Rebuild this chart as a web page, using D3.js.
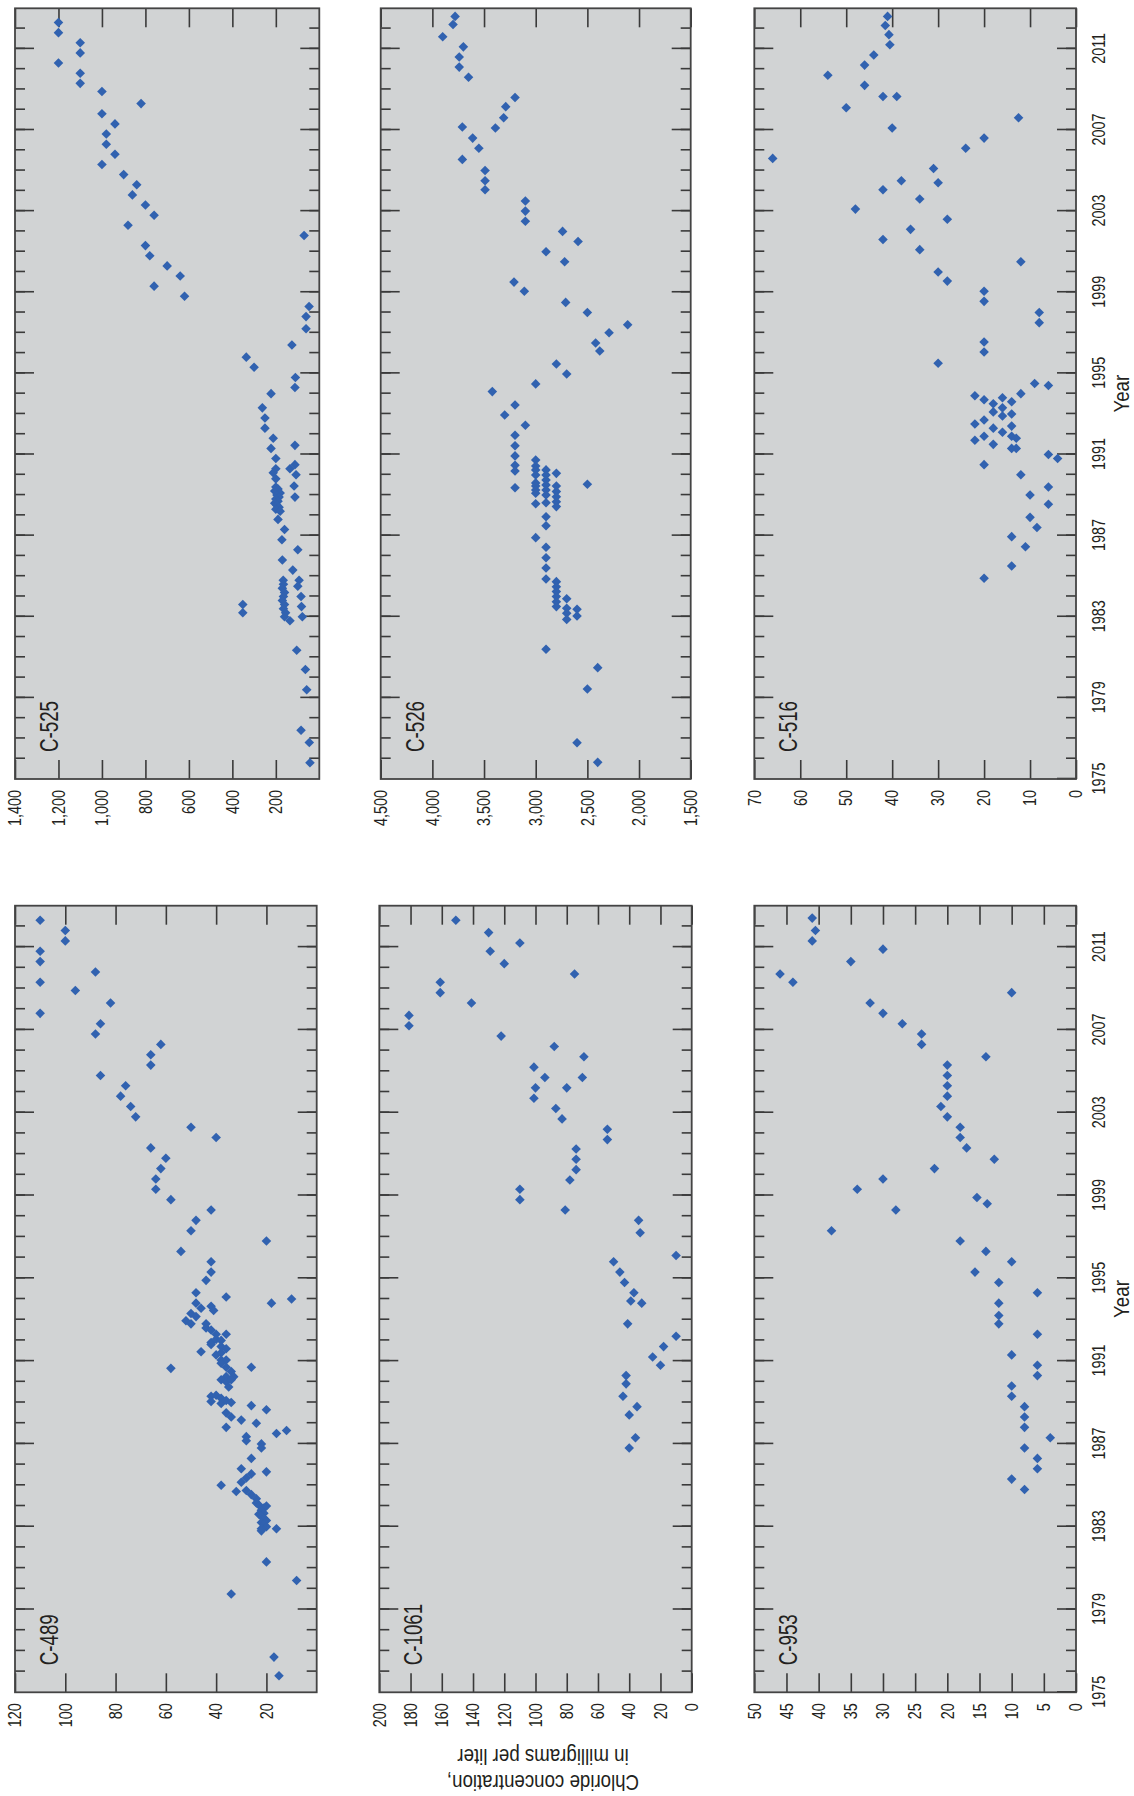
<!DOCTYPE html>
<html>
<head>
<meta charset="utf-8">
<script src="https://cdn.jsdelivr.net/npm/d3@7"></script>
<style>
  html, body { margin: 0; padding: 0; background: #fff; }
  svg { display: block; }
  text { font-family: "Liberation Sans", Arial, sans-serif; fill: #231f20; }
</style>
</head>
<body>
<div id="chart"></div>
<script>
// Years on the time axis
const yearDomain = [1975, 2013];
const majorYears = d3.range(1979, 2013, 4);
const minorYears = d3.range(1976, 2013);
const yearLabels = d3.range(1975, 2013, 4);

// Chloride, mg/L — [year, value]
const c489 = [
  [2012.3,110],[2011.8,100],[2011.3,100],[2010.8,110],[2010.3,110],[2009.8,88],[2009.3,110],[2008.9,96],
  [2008.3,82],[2007.8,110],[2007.3,86],[2006.8,88],[2006.3,62],[2005.8,66],[2005.3,66],[2004.8,86],
  [2004.3,76],[2003.8,78],[2003.3,74],[2002.8,72],[2002.3,50],[2001.8,40],[2001.3,66],[2000.8,60],
  [2000.3,62],[1999.8,64],[1999.3,64],[1998.8,58],[1998.3,42],[1997.8,48],[1997.3,50],[1996.8,20],
  [1996.3,54],[1995.8,42],[1995.3,42],[1994.9,44],[1994.3,48],[1994.1,36],[1993.8,18],[1994.0,10],
  [1993.8,48],[1993.55,46],[1993.65,42],[1993.45,41],[1993.3,50],[1992.95,52],[1992.8,50],[1993.15,48],
  [1992.8,44],[1992.6,44],[1992.5,42],[1992.3,40],[1992.3,36],[1991.9,42],[1992.05,40],[1992.0,38],
  [1991.45,46],[1991.8,42],[1991.7,38],[1991.6,36],[1991.3,40],[1991.4,38],[1991.05,38],[1991.05,36],
  [1990.65,58],[1990.7,26],[1990.9,38],[1990.7,36],[1990.5,34],[1990.25,36],[1990.25,33],[1990.1,38],
  [1990.0,36],[1990.1,34],[1989.75,35],[1989.3,42],[1989.05,42],[1989.35,40],[1989.2,38],[1988.95,38],
  [1989.1,36],[1989.0,34],[1988.85,26],[1988.65,20],[1988.5,36],[1988.3,34],[1988.15,30],[1988.0,24],
  [1987.8,36],[1987.5,16],[1987.65,12],[1987.35,28],[1987.15,28],[1987.0,22],[1986.8,22],[1986.3,26],
  [1985.8,30],[1985.65,20],[1985.55,26],[1985.35,28],[1985.0,38],[1985.15,30],[1984.7,32],[1984.75,28],
  [1984.55,26],[1984.35,24],[1984.15,24],[1984.05,23],[1983.8,22],[1983.65,21],[1983.5,22],[1983.4,21],
  [1983.3,20],[1983.2,22],[1983.1,21],[1983.0,20],[1982.9,22],[1983.6,23],[1983.9,21],[1984.0,20],
  [1982.8,22],[1982.9,16],[1981.3,20],[1980.4,8],[1979.75,34],[1976.7,17],[1975.8,15]
];

const c1061 = [
  [2012.3,151],[2011.7,130],[2011.2,110],[2010.8,129],[2010.2,120],[2009.7,75],[2009.3,161],[2008.8,161],
  [2008.3,141],[2007.7,181],[2007.2,181],[2006.7,122],[2006.2,88],[2005.7,69],[2005.2,101],[2004.7,94],
  [2004.7,70],[2004.2,100],[2004.2,80],[2003.7,101],[2003.2,87],[2002.7,83],[2002.2,54],[2001.7,54],
  [2001.25,74],[2000.75,74],[2000.25,74],[1999.75,78],[1999.3,110],[1998.8,110],[1998.3,81],[1997.8,34],
  [1997.2,33],[1996.1,10],[1995.8,50],[1995.3,46],[1994.8,43],[1994.3,37],[1993.9,39],[1993.8,32],
  [1992.8,41],[1992.2,10],[1991.7,18],[1991.2,25],[1990.8,20],[1990.3,42],[1989.9,42],[1989.3,44],
  [1988.8,35],[1988.4,40],[1987.3,36],[1986.8,40]
];

const c953 = [
  [2012.4,41],[2011.8,40.5],[2011.3,41],[2010.9,30],[2010.3,35],[2009.7,46],[2009.3,44],[2008.8,10],
  [2008.3,32],[2007.8,30],[2007.3,27],[2006.8,24],[2006.3,24],[2005.7,14],[2005.3,20],[2004.8,20],
  [2004.3,20],[2003.8,20],[2003.3,21],[2002.8,20],[2002.3,18],[2001.8,18],[2001.3,17],[2000.75,12.7],
  [2000.3,22],[1999.8,30],[1999.3,34],[1998.9,15.4],[1998.6,13.8],[1998.3,28],[1997.3,38],[1996.8,18],
  [1996.3,14],[1995.8,10],[1995.3,15.7],[1994.8,12],[1994.3,6],[1993.8,12],[1993.2,12],[1992.8,12],
  [1992.3,6],[1991.3,10],[1990.8,6],[1990.3,6],[1989.8,10],[1989.3,10],[1988.8,8],[1988.3,8],
  [1987.8,8],[1987.3,4],[1986.8,8],[1986.3,6],[1985.8,6],[1985.3,10],[1984.8,8]
];

const c525 = [
  [2012.3,1200],[2011.8,1200],[2011.3,1100],[2010.8,1100],[2010.3,1200],[2009.8,1100],[2009.3,1100],[2008.9,1000],
  [2008.3,820],[2007.8,1000],[2007.3,940],[2006.8,980],[2006.3,980],[2005.8,940],[2005.3,1000],[2004.8,900],
  [2004.3,840],[2003.8,860],[2003.3,800],[2002.8,760],[2002.3,880],[2001.8,70],[2001.3,800],[2000.8,780],
  [2000.3,700],[1999.8,640],[1999.3,760],[1998.8,620],[1998.3,47],[1997.8,61],[1997.2,61],[1996.4,126],
  [1995.8,336],[1995.3,300],[1994.8,110],[1994.3,112],[1994.0,222],[1993.3,262],[1992.8,250],[1992.3,250],
  [1991.8,212],[1991.3,222],[1991.45,112],[1990.8,200],[1990.3,200],[1990.1,212],[1989.8,200],[1990.3,135],
  [1990.5,112],[1990.0,107],[1989.45,116],[1988.9,112],[1989.4,200],[1989.3,190],[1989.2,205],[1989.1,180],
  [1989.0,195],[1988.9,185],[1988.8,200],[1988.7,190],[1988.6,205],[1988.5,195],[1988.4,185],[1988.3,200],
  [1988.2,180],[1987.8,190],[1987.3,160],[1986.8,172],[1986.3,99],[1985.8,170],[1985.3,122],[1984.8,166],
  [1984.8,93],[1984.5,99],[1984.0,84],[1983.5,82],[1983.0,78],[1983.6,352],[1983.2,352],[1984.6,165],
  [1984.4,170],[1984.2,160],[1984.0,165],[1983.8,170],[1983.6,160],[1983.4,165],[1983.2,155],[1983.0,160],
  [1982.8,135],[1981.35,104],[1980.4,64],[1979.4,58],[1977.4,84],[1976.8,46],[1975.8,43]
];

const c526 = [
  [2012.6,3780],[2012.2,3800],[2011.6,3900],[2011.1,3700],[2010.6,3740],[2010.1,3740],[2009.6,3650],[2008.6,3200],
  [2008.15,3290],[2007.6,3310],[2007.1,3390],[2007.15,3710],[2006.6,3610],[2006.1,3550],[2005.55,3710],[2005.0,3490],
  [2004.5,3490],[2004.05,3490],[2003.5,3100],[2003.0,3100],[2002.5,3100],[2002.0,2740],[2001.5,2590],[2001.0,2900],
  [2000.5,2720],[1999.5,3210],[1999.05,3110],[1998.5,2710],[1998.0,2500],[1997.4,2110],[1997.0,2290],[1996.5,2420],
  [1996.1,2380],[1995.46,2800],[1994.97,2700],[1994.48,3000],[1994.1,3420],[1993.44,3200],[1992.95,3300],[1992.44,3100],
  [1991.95,3200],[1991.43,3200],[1990.93,3200],[1990.47,3200],[1990.19,3200],[1989.36,3200],
  [1990.73,3000],[1990.43,3000],[1990.24,3000],[1989.99,3000],[1989.6,3000],[1989.45,3000],[1989.25,3000],[1989.09,3000],[1988.57,3000],
  [1990.24,2900],[1989.99,2900],[1989.74,2900],[1989.5,2900],[1989.25,2900],[1989.0,2900],[1988.62,2900],[1987.93,2900],[1987.49,2900],
  [1990.07,2800],[1989.45,2800],[1989.17,2800],[1988.92,2800],[1988.67,2800],[1988.43,2800],[1989.53,2500],
  [1986.9,3000],[1986.43,2900],[1985.91,2900],[1985.4,2900],[1984.86,2900],
  [1984.73,2800],[1984.48,2800],[1984.24,2800],[1984.0,2800],[1983.74,2800],[1983.5,2800],
  [1983.89,2700],[1983.42,2700],[1983.17,2700],[1982.87,2700],[1983.37,2600],[1983.04,2600],
  [1981.4,2900],[1980.49,2400],[1979.44,2500],[1976.79,2600],[1975.82,2400]
];

const c516 = [
  [2012.6,41],[2012.15,41.5],[2011.7,40.7],[2011.2,40.5],[2010.7,44],[2010.2,46],[2009.7,54],[2009.2,46],
  [2008.65,39],[2008.65,42],[2008.1,50],[2007.6,12.5],[2007.1,40],[2006.6,20],[2006.1,24],[2005.6,66],
  [2005.1,31],[2004.5,38],[2004.05,42],[2004.4,30],[2003.6,34],[2003.1,48],[2002.6,28],[2002.1,36],
  [2001.6,42],[2001.1,34],[2000.5,12],[2000.0,30],[1999.55,28],[1999.05,20],[1998.55,20],[1998.0,8],
  [1997.5,8],[1996.55,20],[1996.05,20],[1995.5,30],[1994.5,9],[1994.4,6],[1994.0,12],[1993.9,22],
  [1993.7,20],[1993.5,18],[1993.3,16],[1993.1,18],[1992.9,16],[1992.7,20],[1992.5,22],[1992.3,18],
  [1992.1,16],[1991.9,20],[1991.7,22],[1991.5,18],[1991.3,14],[1993.6,14],[1993.0,14],[1992.4,14],
  [1991.9,14],[1991.8,13],[1991.3,13],[1993.8,16],[1990.5,20],[1991.0,6],[1990.8,4],[1990.0,12],
  [1989.4,6],[1989.0,10],[1988.55,6],[1987.9,10],[1987.4,8.5],[1986.95,14],[1986.45,11],[1985.5,14],
  [1984.9,20]
];

// Panels, drawn in the landscape frame and turned a quarter turn at the end
const figW = 1796, figH = 1134;
const panels = [
  { name: "C-489",  data: c489,  domain: [0, 120],     ticks: d3.range(20, 121, 20),      fmt: d3.format("d"), x0: 103.7, x1: 890.3,  y0: 15,    y1: 316.7, years: false },
  { name: "C-1061", data: c1061, domain: [0, 200],     ticks: d3.range(0, 201, 20),       fmt: d3.format("d"), x0: 103.7, x1: 890.3,  y0: 379.3, y1: 691.7, years: false },
  { name: "C-953",  data: c953,  domain: [0, 50],      ticks: d3.range(0, 51, 5),         fmt: d3.format("d"), x0: 103.7, x1: 890.3,  y0: 754.3, y1: 1076,  years: true },
  { name: "C-525",  data: c525,  domain: [0, 1400],    ticks: d3.range(200, 1401, 200),   fmt: d3.format(","), x0: 1017,  x1: 1787.7, y0: 15,    y1: 319.3, years: false },
  { name: "C-526",  data: c526,  domain: [1500, 4500], ticks: d3.range(1500, 4501, 500),  fmt: d3.format(","), x0: 1017,  x1: 1787.7, y0: 380.7, y1: 690.7, years: false },
  { name: "C-516",  data: c516,  domain: [0, 70],      ticks: d3.range(0, 71, 10),        fmt: d3.format("d"), x0: 1017,  x1: 1787.7, y0: 754.3, y1: 1076,  years: true }
];

const svg = d3.select("#chart").append("svg")
  .attr("width", figH)
  .attr("height", figW);

// landscape figure rotated counter-clockwise onto the portrait page
const fig = svg.append("g").attr("transform", `translate(0,${figW}) rotate(-90)`);

const tickColor = "#3a3a3a";
const narrow = 0.8; // squeeze text to look like a condensed face
const marker = d3.symbol().type(d3.symbolSquare).size(46);

panels.forEach(p => {
  const pw = p.x1 - p.x0, ph = p.y1 - p.y0;
  const x = d3.scaleLinear().domain(yearDomain).range([0, pw]);
  const y = d3.scaleLinear().domain(p.domain).range([ph, 0]);

  const g = fig.append("g").attr("transform", `translate(${p.x0},${p.y0})`);

  g.append("rect")
    .attr("width", pw).attr("height", ph)
    .attr("fill", "#d1d3d4");

  const style = sel => {
    sel.select(".domain").remove();
    sel.selectAll(".tick line").attr("stroke", tickColor).attr("stroke-width", 1.6);
    sel.selectAll(".tick text")
      .attr("font-size", 18)
      .attr("font-family", null)
      .attr("fill", "#231f20")
      .attr("transform", `scale(${narrow},1)`);
  };

  // year ticks, inside, both edges
  g.append("g").attr("transform", `translate(0,${ph})`)
    .call(d3.axisBottom(x).tickValues(minorYears).tickSize(-10).tickFormat(""))
    .call(style);
  g.append("g").attr("transform", `translate(0,${ph})`)
    .call(d3.axisBottom(x).tickValues(p.years ? yearLabels : majorYears).tickSize(-19).tickPadding(16)
      .tickFormat(p.years ? d3.format("d") : ""))
    .call(style);
  g.append("g")
    .call(d3.axisTop(x).tickValues(minorYears).tickSize(-10).tickFormat(""))
    .call(style);
  g.append("g")
    .call(d3.axisTop(x).tickValues(majorYears).tickSize(-19).tickFormat(""))
    .call(style);

  // value ticks, inside, both edges
  g.append("g")
    .call(d3.axisLeft(y).tickValues(p.ticks).tickSize(-19).tickPadding(11 / narrow).tickFormat(p.fmt))
    .call(style);
  g.append("g").attr("transform", `translate(${pw},0)`)
    .call(d3.axisRight(y).tickValues(p.ticks).tickSize(-19).tickFormat(""))
    .call(style);

  g.selectAll(".pt")
    .data(p.data)
    .join("path")
    .attr("class", "pt")
    .attr("d", marker)
    .attr("transform", d => `translate(${x(d[0])},${y(d[1])}) rotate(45)`)
    .attr("fill", "#3162b0");

  g.append("rect")
    .attr("width", pw).attr("height", ph)
    .attr("fill", "none")
    .attr("stroke", "#444")
    .attr("stroke-width", 1.8);

  g.append("text")
    .attr("transform", "translate(27,43) scale(0.75,1)")
    .attr("font-size", 25)
    .text(p.name);
});

// axis titles
[[103.7, 890.3], [1017, 1787.7]].forEach(([a, b]) => {
  fig.append("text")
    .attr("transform", `translate(${(a + b) / 2},1129) scale(0.85,1)`)
    .attr("text-anchor", "middle")
    .attr("font-size", 22)
    .text("Year");
});

const yTitle = fig.append("text")
  .attr("text-anchor", "middle")
  .attr("font-size", 22)
  .attr("transform", "translate(0,543) rotate(-90) scale(0.85,1)");
yTitle.append("tspan").attr("x", 0).attr("y", 21).text("Chloride concentration,");
yTitle.append("tspan").attr("x", 0).attr("y", 47).text("in milligrams per liter");
</script>
</body>
</html>
